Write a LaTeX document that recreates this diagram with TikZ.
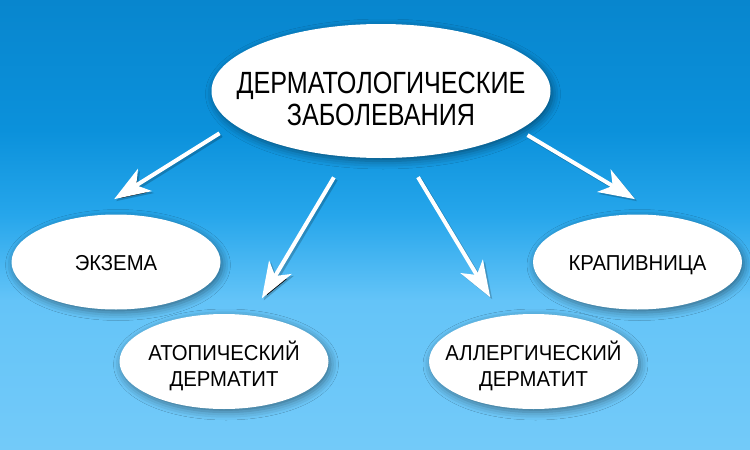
\documentclass[tikz,border=0pt]{standalone}
\usepackage{fontspec}
\setmainfont{Liberation Sans}[FakeStretch=0.82]
\newfontfamily\leaffont{Liberation Sans}[FakeStretch=0.94]
\usetikzlibrary{shapes.geometric, arrows.meta, positioning, shadows.blur}

\definecolor{skytop}{RGB}{8,134,206}
\definecolor{skymid}{RGB}{11,145,219}
\definecolor{skylow}{RGB}{38,166,235}
\definecolor{skylight}{RGB}{100,196,248}
\definecolor{skybottom}{RGB}{115,202,249}

\tikzset{
  disease/.style={ellipse, fill=white, inner xsep=-24pt, inner ysep=0pt,
    minimum width=209pt, minimum height=95pt, align=center,
    font=\leaffont\fontsize{21.6}{26}\selectfont, text depth=0pt,
    blur shadow={shadow xshift=2pt, shadow yshift=-3pt,
      shadow blur radius=8pt, shadow opacity=45}},
  oneline/.style={text height=17.4pt},
  twoline/.style={text height=50.4pt},
  glow/.style={preaction={draw=black, draw opacity=0.2,
      transform canvas={shift={(2pt,-2pt)}}}}
}

\begin{document}
\begin{tikzpicture}[x=1pt, y=-1pt, ->, >={Stealth[length=36pt, width=26pt, inset=10pt]},
line width=4pt, node distance=171pt]

% background
\shade [top color=skytop, bottom color=skymid] (0,0) rectangle (750,130.5);
\shade [top color=skymid, bottom color=skylow] (0,130) rectangle (750,215.5);
\shade [top color=skylow, bottom color=skylight] (0,215) rectangle (750,300.5);
\shade [top color=skylight, bottom color=skybottom] (0,300) rectangle (750,450);
\useasboundingbox (0,0) rectangle (750,450);

\node [disease, minimum width=339pt, minimum height=134pt, inner xsep=-30pt,
  text height=68pt, font=\fontsize{30.7}{32}\selectfont] (main) at (381,91)
  {ДЕРМАТОЛОГИЧЕСКИЕ\\ЗАБОЛЕВАНИЯ};

\node [disease, oneline] (eczema) [below of=main, xshift=-265pt] {ЭКЗЕМА};
\node [disease, oneline] (hives) [below of=main, xshift=256.5pt] {КРАПИВНИЦА};
\node [disease, twoline] (atopic) [below of=eczema, node distance=99.5pt, xshift=108pt]
  {АТОПИЧЕСКИЙ\\ДЕРМАТИТ};
\node [disease, twoline] (allergic) [below of=hives, node distance=99.5pt, xshift=-104pt]
  {АЛЛЕРГИЧЕСКИЙ\\ДЕРМАТИТ};

\path (main.193) edge [white, glow, shorten <=15pt, shorten >=28pt] (eczema.118);
\path (main.242) edge [white, glow, shorten <=22pt, shorten >=18pt] (atopic.59);
\path (main.291) edge [white, glow, shorten <=21pt, shorten >=20pt] (allergic.125);
\path (main.344) edge [white, glow, shorten <=8pt, shorten >=28pt] (hives.66);
\end{tikzpicture}
\end{document}
